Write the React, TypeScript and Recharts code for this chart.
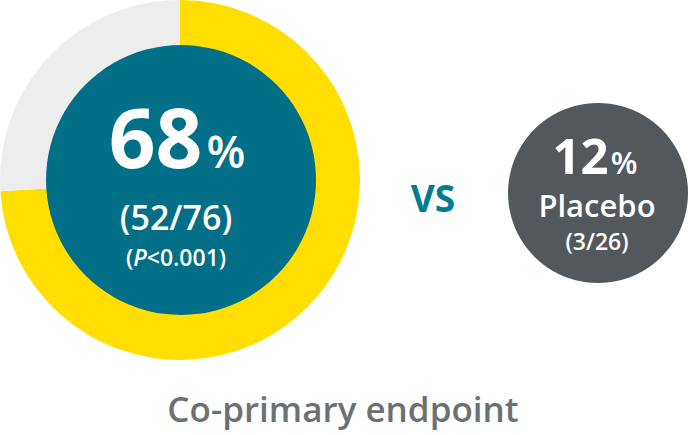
import { PieChart, Pie, Cell, Label } from "recharts";

// ring share as drawn in the picture (responders vs rest)
const ringNames = ["Responders", "Rest"];
const ringValues = [74, 26];
const ringColors = ["#FFDE00", "#EDEDED"];

const treatmentPct = "68";
const treatmentCount = "(52/76)";
const placeboPct = "12";
const placeboCount = "(3/26)";
const title = "Co-primary endpoint";

const ringData = ringNames.map((name, i) => ({ name, value: ringValues[i] }));
const coreData = [{ name: "Treatment", value: 1 }];
const placeboData = [{ name: "Placebo", value: 1 }];

const font = "'Open Sans', Lato, sans-serif";

const TreatmentText = () => (
    <g fill="#fff" fontFamily={font}>
        <text x={177} y={168} textAnchor="middle">
            <tspan fontSize={82} fontWeight={700}>{treatmentPct}</tspan>
            <tspan fontSize={45} fontWeight={600} dx={4}>%</tspan>
        </text>
        <text x={176} y={230} textAnchor="middle" fontSize={34} fontWeight={600}>
            {treatmentCount}
        </text>
        <text x={176} y={266} textAnchor="middle" fontSize={23} fontWeight={600}>
            (<tspan fontStyle="italic">P</tspan>&lt;0.001)
        </text>
    </g>
);

const PlaceboText = () => (
    <g fill="#fff" fontFamily={font}>
        <text x={595} y={174} textAnchor="middle">
            <tspan fontSize={49} fontWeight={700}>{placeboPct}</tspan>
            <tspan fontSize={31} fontWeight={600} dx={2}>%</tspan>
        </text>
        <text x={597} y={217} textAnchor="middle" fontSize={31} fontWeight={600}>
            Placebo
        </text>
        <text x={597} y={250} textAnchor="middle" fontSize={23} fontWeight={600}>
            {placeboCount}
        </text>
    </g>
);

export default function App() {
    return (
        <div style={{ position: "absolute", left: 0, top: 0, width: 688, height: 435 }}>
            <PieChart width={688} height={435} margin={{ top: 0, right: 0, bottom: 0, left: 0 }}>
                <Pie
                    data={ringData}
                    dataKey="value"
                    cx={180}
                    cy={180}
                    innerRadius={130}
                    outerRadius={180}
                    startAngle={90}
                    endAngle={-270}
                    stroke="none"
                    isAnimationActive={false}
                >
                    {ringData.map((d, i) => (
                        <Cell key={d.name} fill={ringColors[i]} />
                    ))}
                </Pie>
                <Pie
                    data={coreData}
                    dataKey="value"
                    cx={181}
                    cy={180}
                    outerRadius={135}
                    stroke="none"
                    fill="#006F87"
                    isAnimationActive={false}
                >
                    <Label content={TreatmentText} />
                </Pie>
                <Pie
                    data={placeboData}
                    dataKey="value"
                    cx={598}
                    cy={193}
                    outerRadius={90}
                    stroke="none"
                    fill="#52585B"
                    isAnimationActive={false}
                >
                    <Label content={PlaceboText} />
                </Pie>
                <text x={433} y={212} textAnchor="middle" fill="#007B90" fontFamily={font} fontSize={37} fontWeight={700}>
                    VS
                </text>
                <text x={343} y={422} textAnchor="middle" fill="#6C7174" fontFamily={font} fontSize={35} fontWeight={600}>
                    {title}
                </text>
            </PieChart>
        </div>
    );
}
